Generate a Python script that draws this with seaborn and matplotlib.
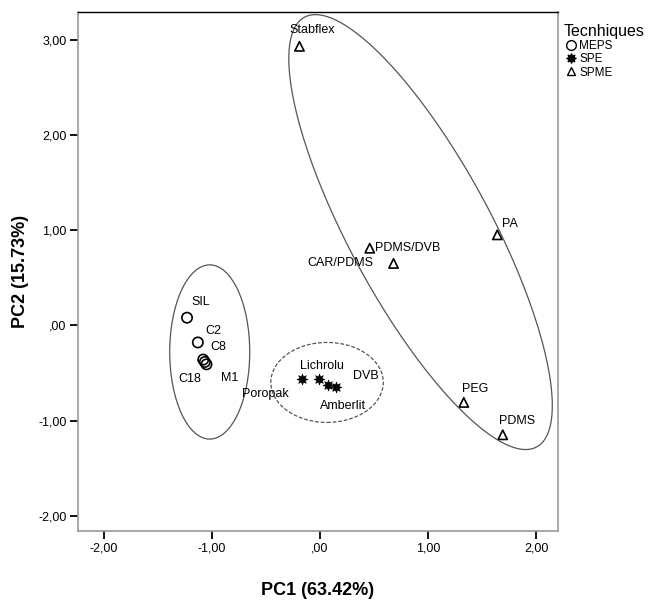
import numpy as np
import pandas as pd
import matplotlib
matplotlib.use("Agg")
import matplotlib.pyplot as plt
from matplotlib.patches import Ellipse
from matplotlib.lines import Line2D
from matplotlib.ticker import FuncFormatter
import seaborn as sns

# data
meps_names = ["SIL", "C2", "C8", "C18", "M1"]
meps_pc1 = [-1.23, -1.13, -1.08, -1.065, -1.05]
meps_pc2 = [0.08, -0.18, -0.36, -0.385, -0.41]

spe_names = ["Poropak", "Lichrolu", "Amberlit", "DVB"]
spe_pc1 = [-0.17, -0.01, 0.07, 0.15]
spe_pc2 = [-0.56, -0.56, -0.63, -0.65]

spme_names = ["Stabflex", "PDMS/DVB", "CAR/PDMS", "PA", "PEG", "PDMS"]
spme_pc1 = [-0.19, 0.46, 0.68, 1.64, 1.33, 1.69]
spme_pc2 = [2.93, 0.81, 0.65, 0.95, -0.81, -1.15]

groups = ["MEPS", "SPE", "SPME"]

sns.set_theme(style="white", rc={"text.color": "black", "axes.labelcolor": "black",
                                 "xtick.color": "black", "ytick.color": "black"})
plt.rcParams["font.family"] = ["Liberation Sans", "DejaVu Sans"]


def fmt(v, pos):
    s = f"{v:.2f}".replace(".", ",")
    s = s.replace("-0,", "-,")
    if s.startswith("0,"):
        s = s[1:]
    return s


def main():
    df = pd.concat([
        pd.DataFrame({"PC1": meps_pc1, "PC2": meps_pc2, "name": meps_names, "Tecnhiques": "MEPS"}),
        pd.DataFrame({"PC1": spe_pc1, "PC2": spe_pc2, "name": spe_names, "Tecnhiques": "SPE"}),
        pd.DataFrame({"PC1": spme_pc1, "PC2": spme_pc2, "name": spme_names, "Tecnhiques": "SPME"}),
    ], ignore_index=True)

    fig = plt.figure(figsize=(6.54, 6.02), dpi=100)
    ax = fig.add_axes([0.119, 0.118, 0.734, 0.862])

    styles = {
        "MEPS": dict(marker="o", s=55, facecolor="none", edgecolor="black", linewidth=1.2),
        "SPE": dict(marker=(8, 1, 0), s=60, facecolor="black", edgecolor="black", linewidth=0.5),
        "SPME": dict(marker="^", s=45, facecolor="none", edgecolor="black", linewidth=1.2),
    }
    for g in groups:
        sub = df[df["Tecnhiques"] == g]
        sns.scatterplot(data=sub, x="PC1", y="PC2", ax=ax, legend=False, **styles[g])

    # point labels (offsets in points)
    offsets = {
        "SIL": (10, 11), "C2": (11, 8), "C8": (11, 9), "C18": (-11, -12), "M1": (17, -10),
        "Poropak": (-26, -11), "Lichrolu": (2, 9), "Amberlit": (11, -15), "DVB": (21, 8),
        "Stabflex": (9, 12), "PDMS/DVB": (27, 0), "CAR/PDMS": (-38, 0), "PA": (9, 8),
        "PEG": (8, 10), "PDMS": (10, 10),
    }
    for _, r in df.iterrows():
        ax.annotate(r["name"], (r["PC1"], r["PC2"]), xytext=offsets[r["name"]],
                    textcoords="offset points", ha="center", va="center", fontsize=9)

    # group ellipses
    ax.add_patch(Ellipse((-1.02, -0.28), 0.74, 1.83, fill=False, edgecolor="#555555", lw=0.9))
    ax.add_patch(Ellipse((0.065, -0.60), 1.04, 0.84, fill=False, edgecolor="#555555",
                         lw=0.9, linestyle=(0, (3, 1.5))))
    t = np.linspace(0, 2 * np.pi, 300)
    c = (0.93, 0.979)
    u = (0.972, -2.284)
    v = (0.735, 0.0)
    ax.plot(c[0] + u[0] * np.cos(t) + v[0] * np.sin(t),
            c[1] + u[1] * np.cos(t) + v[1] * np.sin(t), color="#555555", lw=0.9)

    ax.set_xlim(-2.24, 2.20)
    ax.set_ylim(-2.16, 3.29)
    ax.set_xticks([-2, -1, 0, 1, 2])
    ax.set_yticks([-2, -1, 0, 1, 2, 3])
    ax.xaxis.set_major_formatter(FuncFormatter(fmt))
    ax.yaxis.set_major_formatter(FuncFormatter(fmt))
    ax.tick_params(axis="both", direction="out", length=6, width=1.3, color="black",
                   labelsize=9, pad=2, bottom=True, left=True)
    for s in ["left", "bottom", "right"]:
        ax.spines[s].set_color("#999999")
        ax.spines[s].set_linewidth(1.2)
    ax.spines["top"].set_color("black")
    ax.spines["top"].set_linewidth(1.0)

    ax.set_xlabel("PC1 (63.42%)", fontsize=13, fontweight="bold", labelpad=20)
    ax.set_ylabel("PC2 (15.73%)", fontsize=13, fontweight="bold", labelpad=7)

    handles = [
        Line2D([], [], linestyle="none", marker="o", markersize=7, markerfacecolor="none",
               markeredgecolor="black", label="MEPS"),
        Line2D([], [], linestyle="none", marker=(8, 1, 0), markersize=7, markerfacecolor="black",
               markeredgecolor="black", label="SPE"),
        Line2D([], [], linestyle="none", marker="^", markersize=6, markerfacecolor="none",
               markeredgecolor="black", label="SPME"),
    ]
    leg = fig.legend(handles=handles, title="Tecnhiques", loc="upper left",
                     bbox_to_anchor=(0.855, 0.968), frameon=False, fontsize=8.5,
                     title_fontsize=11.5, handletextpad=0.1, labelspacing=0.1,
                     handlelength=1.2, borderaxespad=0)
    leg._legend_box.align = "left"

    fig.savefig("out.png", dpi=100)


if __name__ == "__main__":
    main()
